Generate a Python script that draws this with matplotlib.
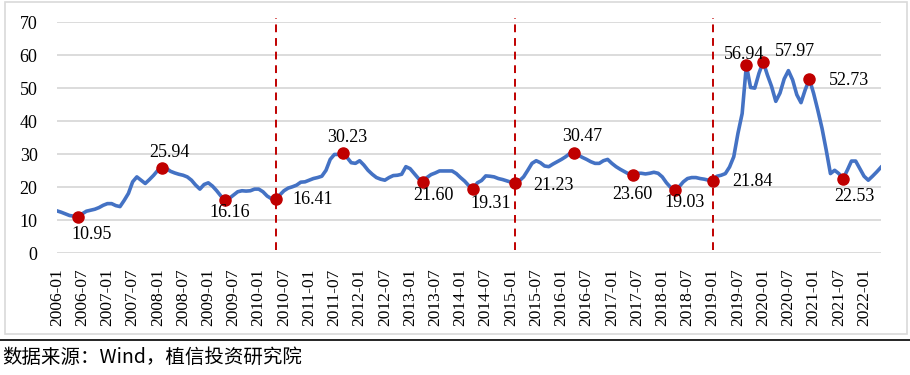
import matplotlib
matplotlib.use("Agg")
import matplotlib.pyplot as plt

# monthly series, 2006-01 .. 2022-05
values = [
    12.8, 12.4, 11.9, 11.4, 11.2, 10.95,
    11.9, 12.7, 13.0, 13.3, 13.8, 14.5, 15.0, 15.0, 14.4, 14.1,
    16.0, 18.1, 21.6, 23.1, 22.1, 21.1, 22.3, 23.6, 25.1, 25.94,
    25.7, 24.8, 24.3, 23.9, 23.6, 23.1, 22.1, 20.6, 19.4, 20.8,
    21.3, 20.3, 18.9, 17.3, 16.16,
    16.6, 17.6, 18.6, 18.9, 18.8, 18.9, 19.4, 19.4, 18.6, 17.3, 16.5, 16.41,
    17.6, 18.9, 19.7, 20.1, 20.6, 21.5, 21.6, 22.1, 22.6, 22.9,
    23.3, 25.1, 28.4, 29.9, 29.9, 30.23,
    29.0, 27.4, 27.2, 28.0, 26.7, 25.1, 23.9, 22.9, 22.4, 22.1,
    22.9, 23.5, 23.6, 23.9, 26.2, 25.6, 24.1, 22.6, 21.60,
    22.9, 23.8, 24.3, 24.9, 24.9, 24.9, 24.9, 24.1, 22.9, 21.8, 20.4, 19.31,
    21.3, 22.0, 23.4, 23.3, 23.1, 22.6, 22.3, 21.9, 21.5, 21.23,
    21.9, 23.1, 25.1, 27.2, 28.0, 27.4, 26.4, 26.2, 27.0, 27.7, 28.4, 29.2, 30.2, 30.47,
    29.7, 29.0, 28.4, 27.7, 27.2, 27.2, 28.0, 28.4, 27.2, 26.2, 25.4, 24.7, 24.0, 23.60,
    24.2, 24.2, 24.0, 24.2, 24.5, 24.2, 23.1, 21.3, 19.9, 19.03,
    20.1, 21.6, 22.6, 22.9, 22.9, 22.6, 22.4, 22.1, 21.84,
    23.3, 23.6, 24.1, 26.1, 29.2, 36.3, 42.3, 56.94,
    50.2, 50.0, 54.5, 57.97,
    54.0, 50.5, 46.0, 48.5, 52.8, 55.3, 52.5, 48.0, 45.6, 49.5, 52.73,
    48.4, 43.3, 37.8, 31.2, 24.1, 25.1, 24.1, 22.53,
    25.1, 27.9, 27.9, 25.6, 23.3, 22.1, 23.3, 24.6, 26.0,
]

tick_labels = [
    "2006-01", "2006-07", "2007-01", "2007-07", "2008-01", "2008-07",
    "2009-01", "2009-07", "2010-01", "2010-07", "2011-01", "2011-07",
    "2012-01", "2012-07", "2013-01", "2013-07", "2014-01", "2014-07",
    "2015-01", "2015-07", "2016-01", "2016-07", "2017-01", "2017-07",
    "2018-01", "2018-07", "2019-01", "2019-07", "2020-01", "2020-07",
    "2021-01", "2021-07", "2022-01",
]

# marked points (month index) and their label offsets in pixels
marks = [5, 25, 40, 52, 68, 87, 99, 109, 123, 137, 147, 156, 164, 168, 179, 187]
offsets = [(14, -18), (7, 15), (5, -13), (37, -1), (4, 16), (11, -14),
           (18, -14), (38, -2), (8, 16), (0, -19), (10, -12), (40, 0),
           (-2, 11), (32, 10), (40, -1), (11, -18)]

# dashed separators
splits = [52, 109, 156]

blue = "#4472C4"
red = "#C00000"

fig = plt.figure(figsize=(9.1, 3.75), dpi=100)
ax = fig.add_axes([0.0626, 0.325, 0.968 - 0.0626, 0.941 - 0.325])

x = list(range(len(values)))
ax.plot(x, values, color=blue, lw=2.6, solid_joinstyle="round", zorder=3)

for i, (dx, dy) in zip(marks, offsets):
    ax.plot(i, values[i], "o", color=red, ms=8, zorder=4)
    ax.annotate(f"{values[i]:.2f}", (i, values[i]), xytext=(dx, dy),
                textcoords="offset pixels", ha="center", va="center",
                fontsize=13, family="Liberation Serif", zorder=5)

for s in splits:
    ax.vlines(s, 0.8, 71.2, colors=red, linestyles=(0, (4, 3)), lw=1.4,
              clip_on=False, zorder=2)

ax.set_xlim(0, len(values) - 1)
ax.set_ylim(0, 70)
ax.set_yticks(range(0, 71, 10))
ax.set_xticks(range(0, len(values), 6))
ax.set_xticklabels(tick_labels, rotation=90, family="Liberation Serif", fontsize=12.5)
for lab in ax.get_yticklabels():
    lab.set_family("Liberation Serif")
    lab.set_fontsize(13)
ax.tick_params(axis="both", length=0)
ax.tick_params(axis="y", pad=14)
ax.tick_params(axis="x", pad=11)
ax.grid(axis="y", color="#d9d9d9", lw=1.3)
ax.set_axisbelow(True)
for sp in ax.spines.values():
    sp.set_visible(False)

# chart box and bottom rule
fig.patches.append(plt.Rectangle((5 / 910, 1 - 334 / 375), 902 / 910, 332 / 375,
                                 transform=fig.transFigure, fill=False,
                                 edgecolor="#d9d9d9", lw=1.2))
fig.add_artist(plt.Line2D([0, 1], [1 - 340 / 375, 1 - 340 / 375],
                          transform=fig.transFigure, color="black", lw=1.2))

fig.text(0.002, 1 - 357 / 375, "数据来源：Wind，植信投资研究院",
         family=["Noto Sans CJK SC", "DejaVu Sans"], fontsize=14,
         va="center", ha="left")

fig.savefig("out.png", dpi=100)
